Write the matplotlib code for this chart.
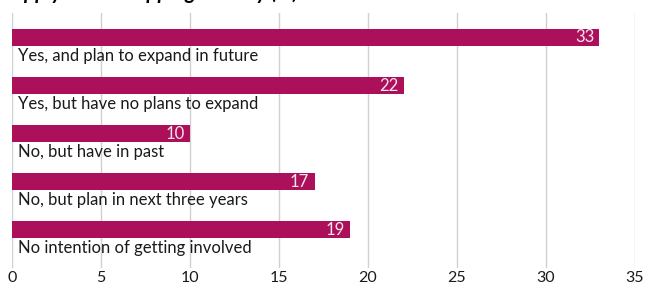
import matplotlib.pyplot as plt

categories = ['Yes, and plan to expand in future',
              'Yes, but have no plans to expand',
              'No, but have in past',
              'No, but plan in next three years',
              'No intention of getting involved']
values = [33, 22, 10, 17, 19]
ticks = [0, 5, 10, 15, 20, 25, 30, 35]

bar_color = '#ad105a'
plt.rcParams['font.family'] = ['Lato', 'DejaVu Sans']

fig = plt.figure(figsize=(6.45, 2.85), dpi=100)
ax = fig.add_axes([12 / 645, 17 / 285, 623 / 645, 255 / 285])

pos = list(range(len(values)))
ax.barh(pos, values, height=0.34, color=bar_color, zorder=2)

for p, v, c in zip(pos, values, categories):
    ax.text(v - 0.3, p, str(v), color='#f4e6ee', ha='right', va='center', fontsize=12, zorder=3)
    ax.text(0.34, p + 0.38, c, color='#1a1a1a', ha='left', va='center', fontsize=12, zorder=3)

ax.set_xlim(0, 35)
ax.set_ylim(4.8, -0.51)
ax.set_xticks(ticks)
ax.set_yticks([])
ax.grid(axis='x', color='#d0d0d0', linewidth=1, zorder=0)
ax.tick_params(axis='x', length=0, labelsize=11.5, pad=2, colors='#1a1a1a')
for s in ax.spines.values():
    s.set_visible(False)

# title sits mostly above the visible area
fig.text(0.003, 1 + 1 / 285, 'Supply chain mapping activity (%)', fontsize=15,
         fontweight='bold', fontstyle='italic', ha='left', va='baseline')

fig.savefig('out.png', dpi=100)
